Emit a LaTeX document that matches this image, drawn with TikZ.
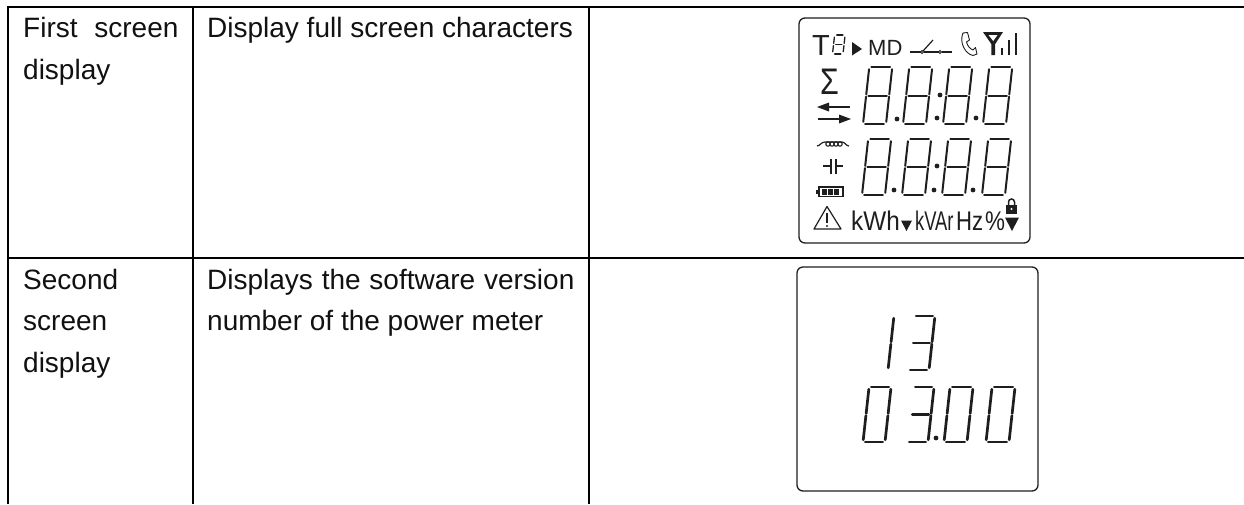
\documentclass[tikz,border=0pt]{standalone}
\usepackage{fontspec}
\setmainfont{Liberation Sans}
\definecolor{ink}{HTML}{111111}
\definecolor{lcd}{HTML}{1E1E1E}
\tikzset{
  rule/.style={line width=2pt,black},
  cell/.style={anchor=base west,inner sep=0pt,text=ink,font=\fontsize{28}{28}\selectfont},
  lcdtext/.style={anchor=base west,inner sep=0pt,text=lcd},
  frame/.style={draw=lcd,line width=1.3pt,rounded corners=6pt},
  icon/.style={draw=lcd,line width=1.2pt}
}
\newcommand{\segA}{\draw[digitline] ({\dG},{-\dH}) -- ({\dW-\dG},{-\dH});}
\newcommand{\segB}{\draw[digitline] ({\dW},{-\dH+\dG}) -- ({\dW},{-\dH/2-\dG/2});}
\newcommand{\segC}{\draw[digitline] ({\dW},{-\dH/2+\dG/2}) -- ({\dW},{-\dG});}
\newcommand{\segD}{\draw[digitline] ({\dG},0) -- ({\dW-\dG},0);}
\newcommand{\segE}{\draw[digitline] (0,{-\dH/2+\dG/2}) -- (0,{-\dG});}
\newcommand{\segF}{\draw[digitline] (0,{-\dH+\dG}) -- (0,{-\dH/2-\dG/2});}
\newcommand{\segG}{\draw[digitline] ({\dG},{-\dH/2}) -- ({\dW-\dG},{-\dH/2});}
% x, y of lower left, width, height, pen, segments
\newcommand{\sevenseg}[6]{%
  \begin{scope}[shift={(#1,#2)},xslant=0.11,digitline/.style={draw=lcd,line width=#5pt,line cap=round}]
    \def\dW{#3}\def\dH{#4}\def\dG{2.2}
    \foreach \s in {#6}{\csname seg\s\endcsname}
  \end{scope}}
\newcommand{\lcddot}[3]{\fill[lcd] (#1,#2) circle (#3pt);}
\begin{document}
\begin{tikzpicture}[x=1pt,y=-1pt]
\useasboundingbox (0,0) rectangle (1244,504);
\fill[white] (0,0) rectangle (1244,504);
% table rules
\draw[rule] (7.5,504) -- (7.5,7) -- (1244,7);
\draw[rule] (7.5,258) -- (1244,258);
\draw[rule] (193,7) -- (193,504);
\draw[rule] (589,7) -- (589,504);
% cell texts
\node[cell] (a1) at (23,37.7) {First\hspace{9pt} screen};
\node[cell] (a2) at (23,79.3) {display};
\node[cell] (b1) at (207,37.7) {Display full screen characters};
\node[cell] (c1) at (23,289.3) {Second};
\node[cell] (c2) at (23,330.8) {screen};
\node[cell] (c3) at (23,372.5) {display};
\node[cell] (d1) at (207,289.3) {{\spaceskip=8.8pt Displays the software version}};
\node[cell] (d2) at (207,330.8) {number of the power meter};
% first LCD
\draw[frame] (799,18) rectangle (1030,243);
\node[lcdtext,font=\fontsize{29}{29}\selectfont] (t) at (812,55) {T};
\sevenseg{832.5}{54}{10.5}{19}{1.3}{A,B,C,D,E,F,G}
\fill[lcd] (852,42) -- (862,49) -- (852,55.5) -- cycle;
\node[lcdtext,font=\fontsize{22}{22}\selectfont] (md) at (868,55) {MD};
\draw[icon] (910,52) -- (920.5,52) (923.5,52) -- (938.5,52) (941.5,52) -- (952,52);
\draw[draw=lcd,line width=.8pt] (922,52) circle (1.5pt) (940,52) circle (1.5pt);
\draw[icon] (923,51) -- (933,40);
% handset
\draw[draw=lcd,line width=.9pt,line join=round] (963,33) -- (967.5,32.5) -- (969.5,40) -- (966.5,42) .. controls (967.5,46) and (970,49) .. (973,50) -- (975.5,47.5) -- (977,54) -- (973,55.5) .. controls (965,54) and (959,42) .. cycle;
% antenna and bars
\fill[lcd] (983,32) -- (1003,32) -- (995.2,44) -- (995.2,55) -- (991.3,55) -- (991.3,44) -- cycle;
\fill[white] (988.5,35) -- (997.5,35) -- (993.2,41) -- cycle;
\draw[lcd,line width=2.2pt] (1002,48) -- (1002,55) (1009,40) -- (1009,55) (1016,33) -- (1016,55);
% sigma and arrows
\node[lcdtext,font=\fontsize{37}{37}\selectfont,xscale=.82] (sg) at (820,94.5) {Σ};
\draw[lcd,line width=1.7pt] (827,107) -- (850,107) (818,119) -- (841,119);
\fill[lcd] (817,107) -- (829,102.5) -- (829,111.5) -- cycle;
\fill[lcd] (851,119) -- (839,114.5) -- (839,123.5) -- cycle;
\foreach \x in {863,903,943,983}{\sevenseg{\x}{124}{23}{57}{2}{A,B,C,D,E,F,G}}
\lcddot{897}{119}{2.4}\lcddot{937}{118}{2.4}\lcddot{940}{95}{2.4}\lcddot{976}{118}{2.4}
% inductor, capacitor, battery
\draw[icon] (817,146) .. controls (820,146) and (821,142) .. (825,142) -- (842,142) .. controls (845,142) and (846,146) .. (849,146);
\foreach \x in {828,832,836,840}{\draw[lcd,line width=1.1pt] (\x,144) circle (2.2pt);}
\draw[icon] (823,166) -- (831,166) (836,166) -- (843,166);
\draw[lcd,line width=1.6pt] (831,159) -- (831,174) (836,159) -- (836,174);
\draw[icon] (819,187) rectangle (843,196.5);
\fill[lcd] (815.5,189.5) rectangle (819,194);
\foreach \x in {822,828,834}{\fill[lcd] (\x,189) rectangle (\x+4.5,194.5);}
\foreach \x in {862,902,942,982}{\sevenseg{\x}{195}{23}{56}{2}{A,B,C,D,E,F,G}}
\lcddot{894}{190}{2.4}\lcddot{934}{190}{2.4}\lcddot{937}{166}{2.4}\lcddot{973}{190}{2.4}
% bottom row
\draw[icon,line join=round] (827,206.5) -- (814,229) -- (841,229) -- cycle;
\draw[lcd,line width=1.6pt] (827,213) -- (827,222.5);
\fill[lcd] (827,226) circle (1.1pt);
\node[lcdtext,font=\fontsize{27}{27}\selectfont,xscale=.9] (kwh) at (851,230) {kWh};
\fill[lcd] (901,220.5) -- (912,220.5) -- (906.5,231) -- cycle;
\node[lcdtext,font=\fontsize{27}{27}\selectfont,xscale=.68] (kvar) at (915,230) {kVAr};
\node[lcdtext,font=\fontsize{27}{27}\selectfont,xscale=.82] (hz) at (956,230) {Hz};
\node[lcdtext,font=\fontsize{27}{27}\selectfont,xscale=.83] (pct) at (985,230) {\%};
\draw[lcd,line width=1.5pt] (1008.5,205) -- (1008.5,202) arc (180:0:3pt) -- (1014.5,205);
\fill[lcd] (1006,205) rectangle (1017,214);
\fill[white] (1011.5,209) circle (1.2pt);
\fill[lcd] (1005,217.5) -- (1019,217.5) -- (1012,231) -- cycle;
% second LCD
\draw[frame] (797,267) rectangle (1038,491);
\sevenseg{888}{370}{0}{54}{2.7}{B,C}
\sevenseg{908}{370}{21}{54}{2.7}{A,B,C,D,G}
\sevenseg{863}{442}{22}{55}{2.7}{A,B,C,D,E,F}
\sevenseg{907}{442}{21}{55}{2.7}{A,B,C,D,G}
\lcddot{936}{438}{2.4}
\sevenseg{944}{442}{23}{55}{2.7}{A,B,C,D,E,F}
\sevenseg{986}{442}{23}{55}{2.7}{A,B,C,D,E,F}
\end{tikzpicture}
\end{document}
